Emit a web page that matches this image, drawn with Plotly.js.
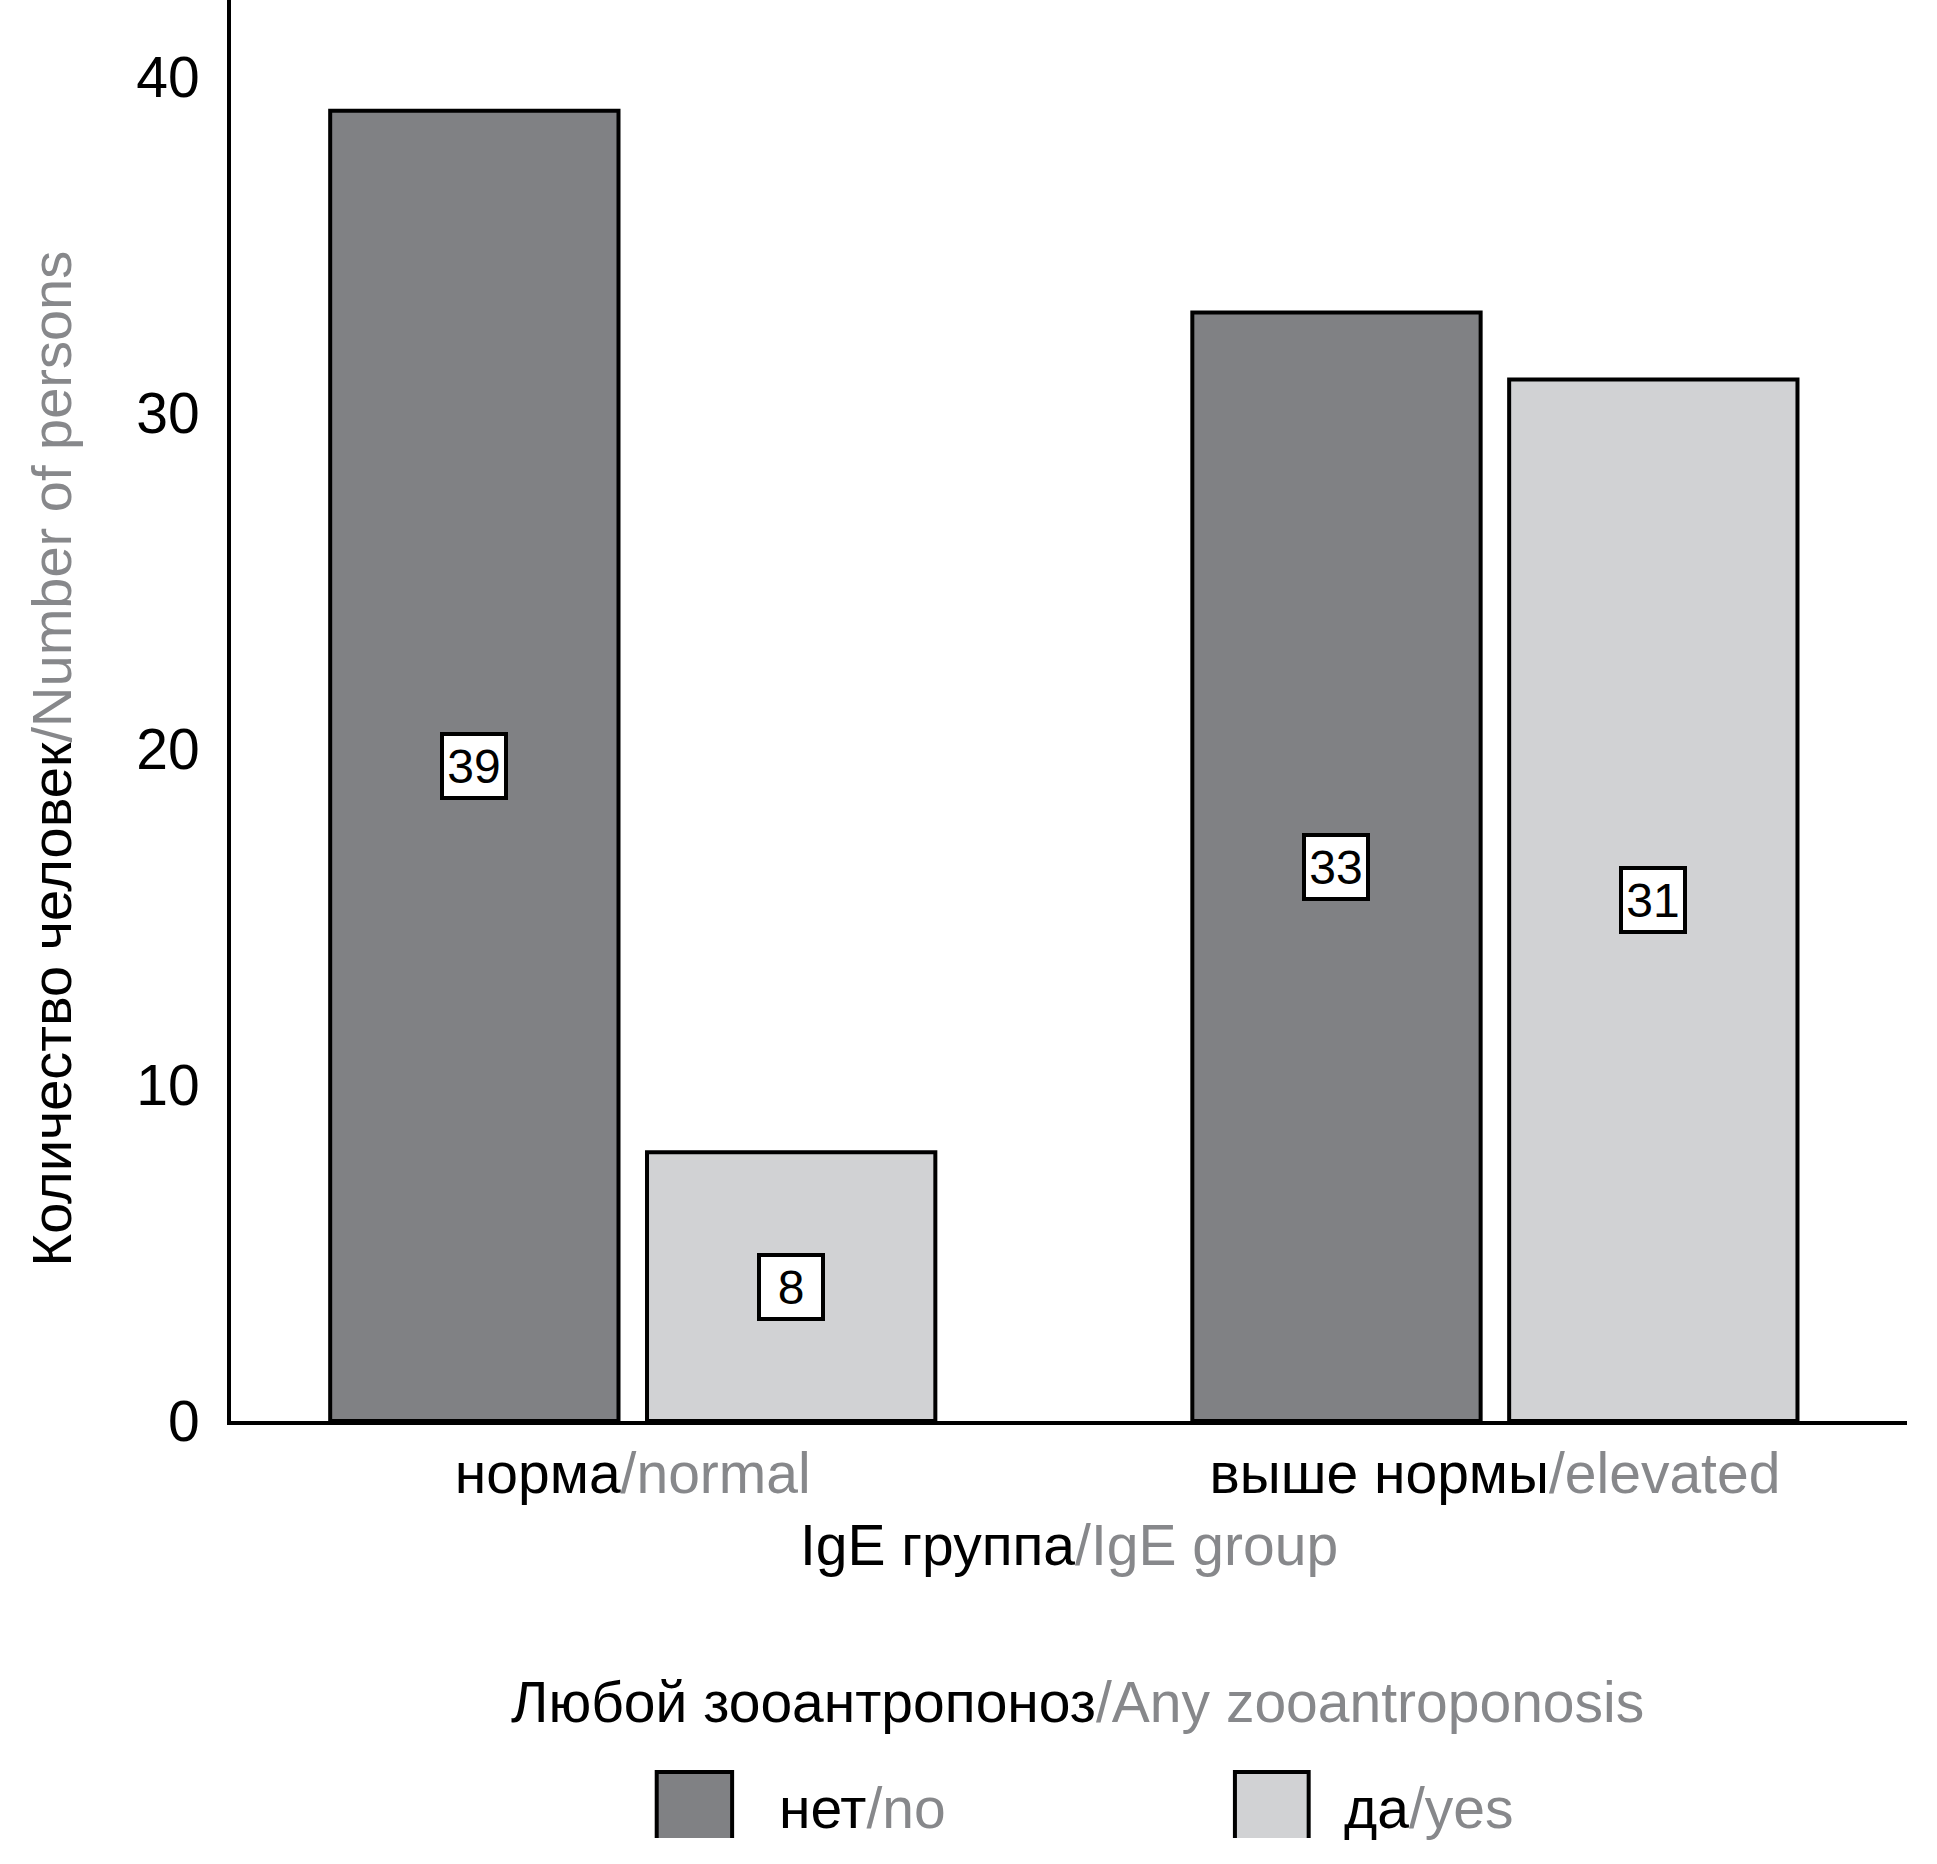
<!DOCTYPE html>
<html>
<head>
<meta charset="utf-8">
<script src="https://cdn.plot.ly/plotly-3.0.1.min.js"></script>
<style>
  html, body { margin: 0; padding: 0; background: #ffffff; }
  #chart { width: 1937px; height: 1864px; }
</style>
</head>
<body>
<div id="chart"></div>
<script>
// ---- Data ----
const categoriesRu = ['норма', 'выше нормы'];
const categoriesEn = ['normal', 'elevated'];
const seriesRu = ['нет', 'да'];
const seriesEn = ['no', 'yes'];
const valuesNo = [39, 33];
const valuesYes = [8, 31];
const yTicks = [0, 10, 20, 30, 40];
const seriesColors = ['#808184', '#d1d2d4'];
const xTitleRu = 'IgE группа';
const xTitleEn = 'IgE group';
const yTitleRu = 'Количество человек';
const yTitleEn = 'Number of persons';
const legendTitleRu = 'Любой зооантропоноз';
const legendTitleEn = 'Any zooantroponosis';

// ---- Style ----
const GRAY = '#87888b';
const FONT = '"Liberation Sans", Arial, sans-serif';
const bargap = 0.265;
const bargroupgap = 0.09;

function bi(ru, en) {
  return ru + '<span style="color:' + GRAY + '">/' + en + '</span>';
}

const seriesValues = [valuesNo, valuesYes];
const traces = seriesValues.map((vals, i) => ({
  type: 'bar',
  name: bi(seriesRu[i], seriesEn[i]),
  x: categoriesEn,
  y: vals,
  marker: { color: seriesColors[i], line: { color: '#000000', width: 4 } },
  hoverinfo: 'x+y',
  showlegend: false
}));

// value boxes centred in each bar
const annotations = [];
const off = (1 - bargap) / 4;
seriesValues.forEach((vals, i) => {
  vals.forEach((v, j) => {
    annotations.push({
      x: j + (i === 0 ? -off : off), xref: 'x',
      y: v / 2, yref: 'y',
      text: String(v),
      showarrow: false,
      font: { family: FONT, size: 48, color: '#000000' },
      bgcolor: '#ffffff',
      bordercolor: '#000000',
      borderwidth: 4,
      borderpad: 0,
      width: 60, height: 60,
      xanchor: 'center', yanchor: 'middle'
    });
  });
});

// y-axis title (placed as rotated text, slightly below the plot centre as in the original)
annotations.push({
  x: -0.107, xref: 'paper', y: 0.466, yref: 'paper',
  text: bi(yTitleRu, yTitleEn),
  textangle: -90,
  showarrow: false, xanchor: 'center', yanchor: 'middle',
  font: { family: FONT, size: 56, color: '#000000' }
});

// custom legend (large swatches)
const legendY = -0.2723;
const swatchX = [[0.254, 0.299], [0.599, 0.643]];
const swTop = -0.247, swBot = -0.2935;
const textX = [0.326, 0.663];
const shapes = [];
seriesColors.forEach((c, i) => {
  const [x0, x1] = swatchX[i];
  shapes.push({
    type: 'path', xref: 'paper', yref: 'paper',
    path: 'M' + x0 + ',' + swBot + ' L' + x0 + ',' + swTop + ' L' + x1 + ',' + swTop + ' L' + x1 + ',' + swBot,
    fillcolor: c,
    line: { color: '#000000', width: 4 }
  });
  annotations.push({
    x: textX[i], xref: 'paper', y: legendY, yref: 'paper',
    text: bi(seriesRu[i], seriesEn[i]),
    showarrow: false, xanchor: 'left', yanchor: 'middle',
    font: { family: FONT, size: 57, color: '#000000' }
  });
});
annotations.push({
  x: 0.505, xref: 'paper', y: -0.198, yref: 'paper',
  text: bi(legendTitleRu, legendTitleEn),
  showarrow: false, xanchor: 'center', yanchor: 'middle',
  font: { family: FONT, size: 57, color: '#000000' }
});

const layout = {
  width: 1937,
  height: 1864,
  margin: { l: 231, r: 30, t: 0, b: 443, pad: 0 },
  paper_bgcolor: '#ffffff',
  plot_bgcolor: '#ffffff',
  barmode: 'group',
  bargap: bargap,
  bargroupgap: bargroupgap,
  font: { family: FONT, color: '#000000', size: 57 },
  xaxis: {
    type: 'category',
    tickvals: categoriesEn,
    ticktext: categoriesRu.map((r, i) => bi(r, categoriesEn[i])),
    range: [-0.466, 1.478],
    showline: true, linecolor: '#000000', linewidth: 4,
    ticks: '', showgrid: false, zeroline: false,
    tickfont: { family: FONT, size: 57, color: '#000000' },
    ticklabelstandoff: 0,
    title: {
      text: bi(xTitleRu, xTitleEn),
      font: { family: FONT, size: 57, color: '#000000' },
      standoff: 22
    },
    automargin: false
  },
  yaxis: {
    range: [0, 42.3],
    tickvals: yTicks,
    ticktext: yTicks.map(String),
    showline: true, linecolor: '#000000', linewidth: 4,
    ticks: '', showgrid: false, zeroline: false,
    tickfont: { family: FONT, size: 57, color: '#000000' },
    ticklabelstandoff: 16,
    automargin: false
  },
  shapes: shapes,
  annotations: annotations,
  showlegend: false
};

Plotly.newPlot('chart', traces, layout, { displayModeBar: false, staticPlot: true });
</script>
</body>
</html>
